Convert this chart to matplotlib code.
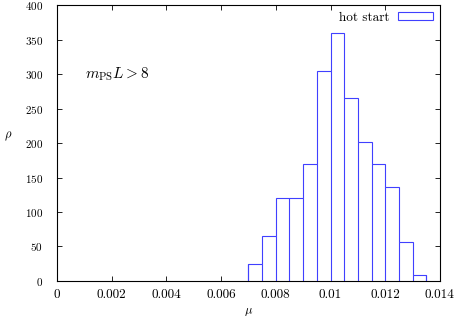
import numpy as np
import matplotlib
matplotlib.use("Agg")
import matplotlib.pyplot as plt
from matplotlib.patches import Patch

plt.rcParams["font.family"] = "cmr10"
plt.rcParams["mathtext.fontset"] = "cm"
plt.rcParams["axes.formatter.use_mathtext"] = True

# histogram of mu, bin width 0.0005
bin_edges = [0.007, 0.0075, 0.008, 0.0085, 0.009, 0.0095, 0.01,
             0.0105, 0.011, 0.0115, 0.012, 0.0125, 0.013, 0.0135]
counts = [24, 65, 120, 120, 169, 305, 360, 265, 201, 169, 136, 56, 8]

xticks = [0, 0.002, 0.004, 0.006, 0.008, 0.01, 0.012, 0.014]
xticklabels = ["0", "0.002", "0.004", "0.006", "0.008", "0.01", "0.012", "0.014"]
yticks = [0, 50, 100, 150, 200, 250, 300, 350, 400]

blue = "#4040ff"

fig = plt.figure(figsize=(4.58, 3.2), dpi=100)
ax = fig.add_axes([0.1245, 0.122, 0.836, 0.862])

ax.stairs(counts, bin_edges, color=blue, linewidth=0.8)
# inner bar edges
for e, c1, c2 in zip(bin_edges[1:-1], counts[:-1], counts[1:]):
    ax.vlines(e, 0, min(c1, c2), color=blue, linewidth=0.8)
ax.vlines([bin_edges[0], bin_edges[-1]], 0, [counts[0], counts[-1]],
          color=blue, linewidth=0.8)

ax.set_xlim(0, 0.014)
ax.set_ylim(0, 400)
ax.set_xticks(xticks)
ax.set_xticklabels(xticklabels)
ax.set_yticks(yticks)
ax.tick_params(direction="in", top=True, right=True, length=3.5, width=0.6)
ax.tick_params(axis="x", labelsize=9.5, pad=6)
ax.tick_params(axis="y", labelsize=8, pad=10)
for s in ax.spines.values():
    s.set_linewidth(0.8)

ax.set_xlabel(r"$\mu$", fontsize=9, labelpad=3)
ax.set_ylabel(r"$\rho$", fontsize=9, rotation=0, labelpad=12)
ax.text(0.00102, 300, r"$m_{\rm PS}L > 8$", fontsize=11, va="center")

handle = Patch(facecolor="white", edgecolor=blue, linewidth=0.8)
ax.legend([handle], ["hot start"], loc="upper right", frameon=False,
          fontsize=9.5, markerfirst=False, handlelength=2.7, handleheight=0.5,
          handletextpad=0.6, borderaxespad=0.3, borderpad=0.2)

fig.savefig("out.png", dpi=100)
